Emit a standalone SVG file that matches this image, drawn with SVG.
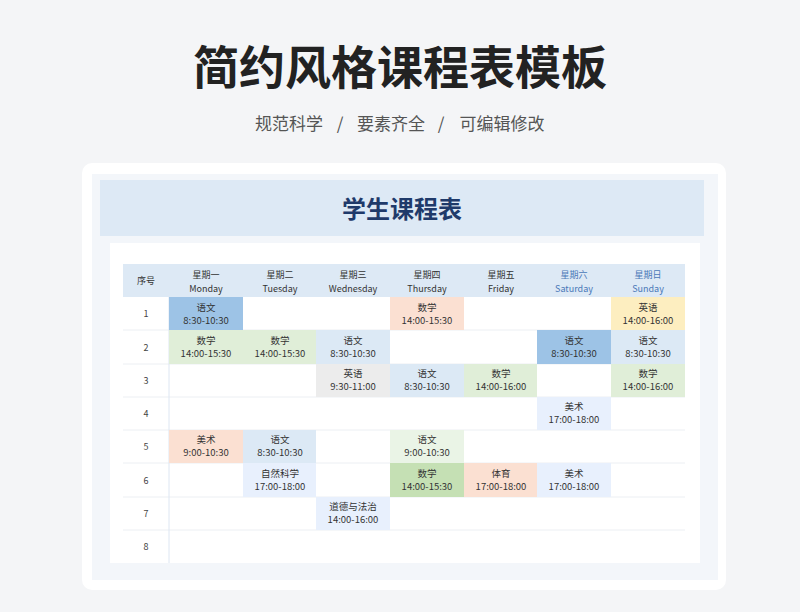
<svg xmlns="http://www.w3.org/2000/svg" width="800" height="612" viewBox="0 0 800 612">
<style>
text{font-family:"Noto Sans CJK SC","Noto Sans",sans-serif;text-anchor:middle}
.h{font-size:9px;fill:#333}
.hb{font-size:9px;fill:#4a78b8}
.c{font-size:9.5px;fill:#333}
.n{font-size:9px;fill:#444}
.s{font-size:17px;fill:#555}
.ln{stroke:#eceff3;stroke-width:1}
</style>
<rect width="800" height="612" fill="#f4f5f7"/>
<text x="400" y="84" style="font-size:46px;font-weight:700;fill:#222">简约风格课程表模板</text>
<text class="s" x="289" y="130">规范科学</text>
<text class="s" x="340" y="130">/</text>
<text class="s" x="391" y="130">要素齐全</text>
<text class="s" x="441" y="130">/</text>
<text class="s" x="502" y="130">可编辑修改</text>
<g id="card">
<rect x="82" y="163" width="644" height="427" rx="10" fill="#fff"/>
<rect x="92" y="174" width="626" height="406" fill="#f3f6fa"/>
<rect x="100" y="180" width="604" height="56" fill="#dde9f5"/>
<text x="402" y="218" style="font-size:24px;font-weight:700;fill:#1f3a6a">学生课程表</text>
<rect x="110" y="243" width="590" height="320" fill="#fff"/>
</g>
<g id="table">
<rect x="123" y="264" width="562" height="33" fill="#dde9f5"/>
<text class="h" x="146" y="284">序号</text>
<text class="h" x="206" y="278">星期一</text><text class="h" x="206" y="292">Monday</text>
<text class="h" x="280" y="278">星期二</text><text class="h" x="280" y="292">Tuesday</text>
<text class="h" x="353" y="278">星期三</text><text class="h" x="353" y="292">Wednesday</text>
<text class="h" x="427" y="278">星期四</text><text class="h" x="427" y="292">Thursday</text>
<text class="h" x="501" y="278">星期五</text><text class="h" x="501" y="292">Friday</text>
<text class="hb" x="574" y="278">星期六</text><text class="hb" x="574" y="292">Saturday</text>
<text class="hb" x="648" y="278">星期日</text><text class="hb" x="648" y="292">Sunday</text>
<g class="ln">
<line x1="123" y1="330" x2="685" y2="330"/><line x1="123" y1="364" x2="685" y2="364"/>
<line x1="123" y1="397" x2="685" y2="397"/><line x1="123" y1="430" x2="685" y2="430"/>
<line x1="123" y1="463" x2="685" y2="463"/><line x1="123" y1="497" x2="685" y2="497"/>
<line x1="123" y1="530" x2="685" y2="530"/>
<line x1="169" y1="297" x2="169" y2="563" stroke="#dde6f2"/>
</g>
<text class="n" x="146" y="317">1</text><text class="n" x="146" y="351">2</text>
<text class="n" x="146" y="384">3</text><text class="n" x="146" y="417">4</text>
<text class="n" x="146" y="450">5</text><text class="n" x="146" y="484">6</text>
<text class="n" x="146" y="517">7</text><text class="n" x="146" y="550">8</text>
</g>
<g id="cells">
<rect x="169" y="297" width="74" height="33" fill="#9dc3e6"/><text class="c" x="206" y="311">语文</text><text class="c" x="206" y="324">8:30-10:30</text>
<rect x="390" y="297" width="74" height="33" fill="#fbe0d2"/><text class="c" x="427" y="311">数学</text><text class="c" x="427" y="324">14:00-15:30</text>
<rect x="611" y="297" width="74" height="33" fill="#fdeec0"/><text class="c" x="648" y="311">英语</text><text class="c" x="648" y="324">14:00-16:00</text>

<rect x="169" y="330" width="74" height="34" fill="#e0eed8"/><text class="c" x="206" y="344">数学</text><text class="c" x="206" y="357">14:00-15:30</text>
<rect x="243" y="330" width="73" height="34" fill="#e0eed8"/><text class="c" x="280" y="344">数学</text><text class="c" x="280" y="357">14:00-15:30</text>
<rect x="316" y="330" width="74" height="34" fill="#dce9f5"/><text class="c" x="353" y="344">语文</text><text class="c" x="353" y="357">8:30-10:30</text>
<rect x="537" y="330" width="74" height="34" fill="#9dc3e6"/><text class="c" x="574" y="344">语文</text><text class="c" x="574" y="357">8:30-10:30</text>
<rect x="611" y="330" width="74" height="34" fill="#dce9f5"/><text class="c" x="648" y="344">语文</text><text class="c" x="648" y="357">8:30-10:30</text>

<rect x="316" y="364" width="74" height="33" fill="#ececec"/><text class="c" x="353" y="377">英语</text><text class="c" x="353" y="390">9:30-11:00</text>
<rect x="390" y="364" width="74" height="33" fill="#dce9f5"/><text class="c" x="427" y="377">语文</text><text class="c" x="427" y="390">8:30-10:30</text>
<rect x="464" y="364" width="73" height="33" fill="#e0eed8"/><text class="c" x="501" y="377">数学</text><text class="c" x="501" y="390">14:00-16:00</text>
<rect x="611" y="364" width="74" height="33" fill="#e0eed8"/><text class="c" x="648" y="377">数学</text><text class="c" x="648" y="390">14:00-16:00</text>

<rect x="537" y="397" width="74" height="33" fill="#e8f0fd"/><text class="c" x="574" y="410">美术</text><text class="c" x="574" y="423">17:00-18:00</text>

<rect x="169" y="430" width="74" height="33" fill="#fbe0d2"/><text class="c" x="206" y="443">美术</text><text class="c" x="206" y="456">9:00-10:30</text>
<rect x="243" y="430" width="73" height="33" fill="#dce9f5"/><text class="c" x="280" y="443">语文</text><text class="c" x="280" y="456">8:30-10:30</text>
<rect x="390" y="430" width="74" height="33" fill="#eaf4e6"/><text class="c" x="427" y="443">语文</text><text class="c" x="427" y="456">9:00-10:30</text>

<rect x="243" y="463" width="73" height="34" fill="#e8f0fd"/><text class="c" x="280" y="477">自然科学</text><text class="c" x="280" y="490">17:00-18:00</text>
<rect x="390" y="463" width="74" height="34" fill="#c5e0b4"/><text class="c" x="427" y="477">数学</text><text class="c" x="427" y="490">14:00-15:30</text>
<rect x="464" y="463" width="73" height="34" fill="#fbe0d2"/><text class="c" x="501" y="477">体育</text><text class="c" x="501" y="490">17:00-18:00</text>
<rect x="537" y="463" width="74" height="34" fill="#e8f0fd"/><text class="c" x="574" y="477">美术</text><text class="c" x="574" y="490">17:00-18:00</text>

<rect x="316" y="497" width="74" height="33" fill="#e8f0fd"/><text class="c" x="353" y="510">道德与法治</text><text class="c" x="353" y="523">14:00-16:00</text>
</g>
</svg>
